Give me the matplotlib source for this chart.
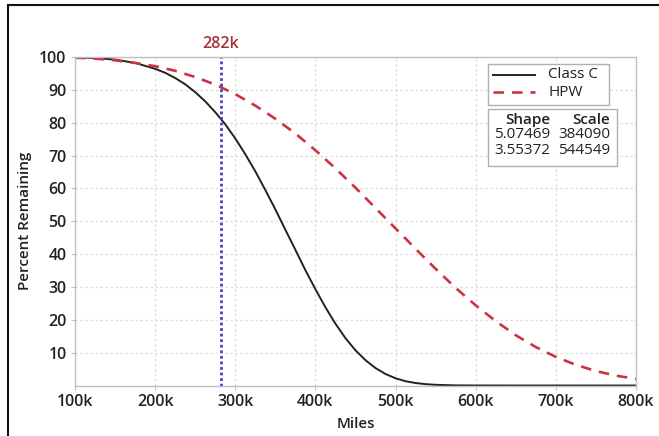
import matplotlib
matplotlib.use("Agg")
import matplotlib.pyplot as plt
from matplotlib.lines import Line2D
from matplotlib.patches import Rectangle
from matplotlib.ticker import FuncFormatter

# ---- data ----
class_c_miles_k = [100, 125, 150, 175, 200, 212.5, 225, 237.5, 250, 262.5, 275, 287.5,
                   300, 312.5, 325, 337.5, 350, 362.5, 375, 387.5, 400, 412.5, 425,
                   437.5, 450, 462.5, 475, 487.5, 500, 512.5, 525, 537.5, 550, 575,
                   600, 650, 700, 750, 800]
class_c = [99.9, 99.7, 99.2, 98.2, 96.4, 95.2, 93.6, 91.7, 89.3, 86.5, 83.2, 79.5,
           75.2, 70.4, 65.2, 59.5, 53.6, 47.4, 41.3, 35.1, 29.3, 23.8, 18.8,
           14.4, 10.7, 7.7, 5.3, 3.5, 2.2, 1.3, 0.76, 0.41, 0.21, 0.04,
           0.01, 0.0, 0.0, 0.0, 0.0]
hpw_miles_k = [100, 125, 150, 175, 200, 225, 250, 275, 300, 325, 350, 375, 400, 425,
               450, 475, 500, 525, 550, 575, 600, 625, 650, 675, 700, 725, 750, 775, 800]
hpw = [99.8, 99.5, 99.0, 98.2, 97.2, 95.8, 93.9, 91.6, 88.7, 85.2, 81.2, 76.7,
       71.6, 66.1, 60.2, 54.0, 47.8, 41.6, 35.5, 29.7, 24.4, 19.6, 15.3, 11.7,
       8.7, 6.3, 4.4, 3.0, 2.0]
series_names = ["Class C", "HPW"]
shapes = ["5.07469", "3.55372"]
scales = ["384090", "544549"]
marker_k = 282
x_ticks = [100, 200, 300, 400, 500, 600, 700, 800]
y_ticks = [10, 20, 30, 40, 50, 60, 70, 80, 90, 100]

FONT = ["Open Sans", "DejaVu Sans"]
plt.rcParams["font.family"] = FONT

W, H = 659, 436
fig = plt.figure(figsize=(W / 100, H / 100), dpi=100)

def fx(px):
    return px / W

def fy(py):
    return 1 - py / H

ax = fig.add_axes([fx(75), fy(385.5), fx(636) - fx(75), fy(57) - fy(385.5)])

ax.plot(class_c_miles_k, class_c, color="#222222", lw=1.4, solid_joinstyle="round")
ax.plot(hpw_miles_k, hpw, color="#cc3340", lw=1.9, ls=(0, (4, 3)))
ax.axvline(marker_k, color="#4a3fc8", lw=2.0, ls=(0, (1, 1)))

ax.set_xlim(100, 800)
ax.set_ylim(0, 100)
ax.set_xticks(x_ticks)
ax.set_yticks(y_ticks)
ax.xaxis.set_major_formatter(FuncFormatter(lambda v, p: f"{int(v)}k"))
ax.grid(True, color="#dcdcdc", ls=(0, (2, 2)), lw=0.9)
ax.set_axisbelow(True)
for s in ax.spines.values():
    s.set_color("#c0c0c0")
    s.set_linewidth(1.0)
ax.tick_params(axis="both", colors="#c0c0c0", length=3, width=0.8,
               labelcolor="#222222", labelsize=11.5, pad=3)
for lab in ax.get_xticklabels() + ax.get_yticklabels():
    lab.set_fontweight("semibold")

ax.set_xlabel("Miles", fontsize=11, fontweight="semibold", color="#222222", labelpad=5)
ax.set_ylabel("Percent Remaining", fontsize=11, fontweight="semibold", color="#222222", labelpad=5)

ax.text(marker_k, 101.5, f"{marker_k}k", color="#a8303a", fontsize=11.5,
        fontweight="semibold", ha="center", va="bottom")

# legend box
fig.patches.append(Rectangle((fx(488), fy(105)), fx(609) - fx(488), fy(64) - fy(105),
                             transform=fig.transFigure, facecolor="white",
                             edgecolor="#b0b0b0", lw=1.0))
fig.lines.append(Line2D([fx(493), fx(535)], [fy(75), fy(75)], transform=fig.transFigure,
                        color="#222222", lw=1.4))
fig.lines.append(Line2D([fx(493), fx(535)], [fy(92), fy(92)], transform=fig.transFigure,
                        color="#cc3340", lw=1.9, ls=(0, (4, 3))))
fig.text(fx(548), fy(75), series_names[0], fontsize=11, color="#222222", va="center", ha="left")
fig.text(fx(548), fy(92), series_names[1], fontsize=11, color="#222222", va="center", ha="left")

# parameter table box
fig.patches.append(Rectangle((fx(488), fy(166)), fx(617) - fx(488), fy(109) - fy(166),
                             transform=fig.transFigure, facecolor="white",
                             edgecolor="#b0b0b0", lw=1.0))
rows_y = [120, 135, 151]
fig.text(fx(550), fy(rows_y[0]), "Shape", fontsize=11, fontweight="semibold",
         color="#222222", va="center", ha="right")
fig.text(fx(610), fy(rows_y[0]), "Scale", fontsize=11, fontweight="semibold",
         color="#222222", va="center", ha="right")
for i in range(2):
    fig.text(fx(550), fy(rows_y[i + 1]), shapes[i], fontsize=11, color="#222222",
             va="center", ha="right")
    fig.text(fx(610), fy(rows_y[i + 1]), scales[i], fontsize=11, color="#222222",
             va="center", ha="right")

# outer border lines
fig.lines.append(Line2D([fx(8), 1.0], [fy(5), fy(5)], transform=fig.transFigure,
                        color="#111111", lw=1.5))
fig.lines.append(Line2D([fx(8), fx(8)], [fy(5), 0.0], transform=fig.transFigure,
                        color="#111111", lw=1.5))

fig.savefig("out.png", dpi=100)
